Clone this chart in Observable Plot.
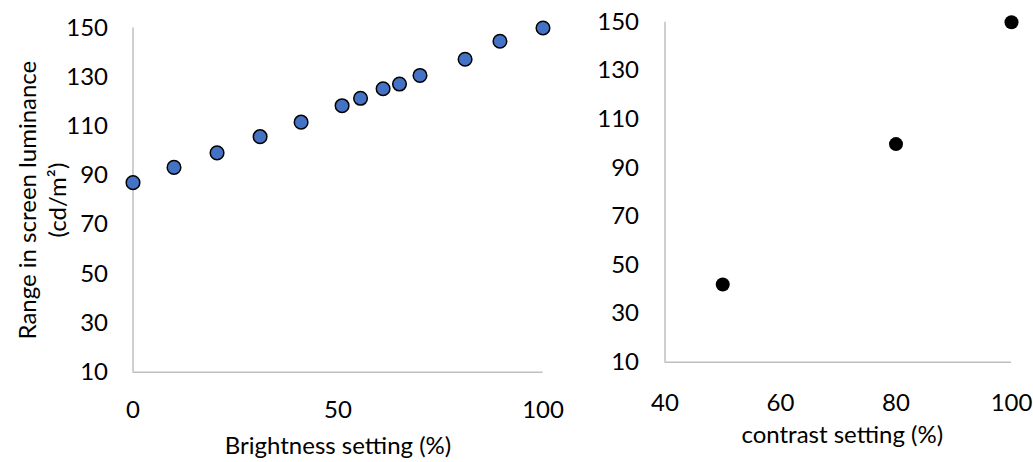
<!DOCTYPE html>
<html>
<head>
<meta charset="utf-8">
<script src="https://cdn.jsdelivr.net/npm/d3@7"></script>
<script src="https://cdn.jsdelivr.net/npm/@observablehq/plot@0.6"></script>
<style>
  html, body { margin: 0; padding: 0; background: #fff; }
  #charts { display: flex; width: 1033px; height: 462px; }
  #charts svg { display: block; }
</style>
</head>
<body>
<div id="charts"></div>
<script>
// Screen luminance range measured against the brightness setting
const brightnessSetting = [0, 10, 20.5, 31, 41, 51, 55.5, 61, 65, 70, 81, 89.5, 100];
const brightnessRange   = [87.1, 93.3, 99.2, 105.8, 111.7, 118.4, 121.4, 125.3, 127.2, 130.7, 137.3, 144.6, 150];

// Screen luminance range measured against the contrast setting
const contrastSetting = [50, 80, 100];
const contrastRange   = [42, 99.8, 150];

// Tick labels
const luminanceTicks  = [10, 30, 50, 70, 90, 110, 130, 150];
const brightnessTicks = [0, 50, 100];
const contrastTicks   = [40, 60, 80, 100];

const yLabel = "Range in screen luminance\n(cd/m\u00B2)";

const brightnessData = brightnessSetting.map((x, i) => ({x, y: brightnessRange[i]}));
const contrastData = contrastSetting.map((x, i) => ({x, y: contrastRange[i]}));

const FS = 24;
const baseStyle = {
  fontFamily: "Lato, 'Open Sans', sans-serif",
  fontSize: FS + "px",
  color: "#000",
  background: "#fff",
  overflow: "visible"
};
const axisGray = "#bfbfbf";

// Left panel: brightness
const left = Plot.plot({
  width: 580,
  height: 462,
  marginLeft: 132.5,
  marginRight: 37.5,
  marginTop: 27.5,
  marginBottom: 90.3,
  style: baseStyle,
  x: {domain: [0, 100]},
  y: {domain: [10, 150]},
  marks: [
    Plot.ruleX([0], {stroke: axisGray, strokeWidth: 1.5}),
    Plot.ruleY([10], {stroke: axisGray, strokeWidth: 1.5}),
    Plot.axisY({ticks: luminanceTicks, tickSize: 0, tickPadding: 25, label: null, fontSize: FS}),
    Plot.axisX({ticks: brightnessTicks, tickSize: 0, tickPadding: 28.5, label: null, fontSize: FS}),
    Plot.text([yLabel], {
      frameAnchor: "left", textAnchor: "middle", rotate: -90, dx: -92, fontSize: FS,
      lineHeight: 1.25, lineAnchor: "middle", fill: "#000"
    }),
    Plot.text(["Brightness setting (%)"], {frameAnchor: "bottom", lineAnchor: "middle", dy: 74, fontSize: FS, fill: "#000"}),
    Plot.dot(brightnessData, {x: "x", y: "y", r: 6.8, fill: "#4472C4", stroke: "#000", strokeWidth: 1.5})
  ]
});

// Right panel: contrast
const right = Plot.plot({
  width: 453,
  height: 462,
  marginLeft: 84.5,
  marginRight: 22,
  marginTop: 21.7,
  marginBottom: 100.3,
  style: baseStyle,
  x: {domain: [40, 100]},
  y: {domain: [10, 150]},
  marks: [
    Plot.ruleX([40], {stroke: axisGray, strokeWidth: 1.5}),
    Plot.ruleY([10], {stroke: axisGray, strokeWidth: 1.5}),
    Plot.axisY({ticks: luminanceTicks, tickSize: 0, tickPadding: 26, label: null, fontSize: FS}),
    Plot.axisX({ticks: contrastTicks, tickSize: 0, tickPadding: 31.8, label: null, fontSize: FS}),
    Plot.text(["contrast setting (%)"], {frameAnchor: "bottom", lineAnchor: "middle", dy: 73, dx: 4, fontSize: FS, fill: "#000"}),
    Plot.dot(contrastData, {x: "x", y: "y", r: 7, fill: "#000", stroke: "none"})
  ]
});

const container = document.getElementById("charts");
container.append(left, right);
</script>
</body>
</html>
